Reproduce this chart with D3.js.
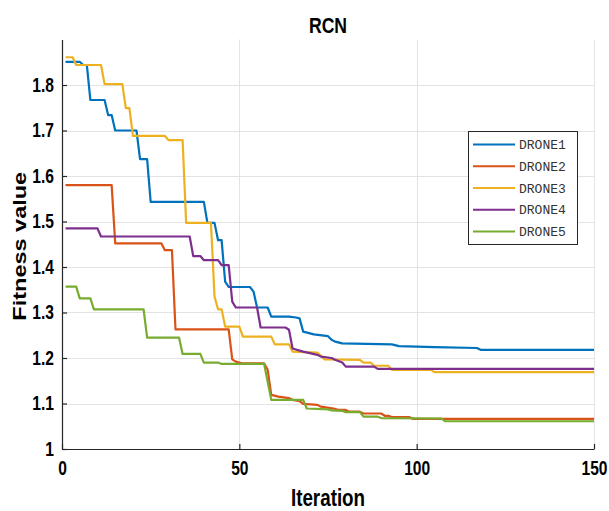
<!DOCTYPE html>
<html>
<head>
<meta charset="utf-8">
<script src="https://cdn.jsdelivr.net/npm/d3@7"></script>
<style>
  body { margin: 0; background: #fff; }
  svg { display: block; }
</style>
</head>
<body>
<svg id="chart" width="609" height="511"></svg>
<script>
// ---- data ----
const titleText = "RCN";
const xLabel = "Iteration";
const yLabel = "Fitness value";
const iterTicks = [0, 50, 100, 150];
const fitTicks = [1, 1.1, 1.2, 1.3, 1.4, 1.5, 1.6, 1.7, 1.8];
const seriesNames = ["DRONE1", "DRONE2", "DRONE3", "DRONE4", "DRONE5"];
const seriesColors = ["#0072BD", "#D95319", "#EDB120", "#7E2F8E", "#77AC30"];

const drone1 = [[1,1.851],[5,1.851],[6,1.844],[7,1.844],[8,1.767],[12,1.767],[13,1.734],[14,1.734],[15,1.700],[21,1.700],[22,1.637],[24,1.637],[25,1.543],[40,1.543],[41,1.497],[43,1.497],[44,1.459],[45,1.459],[46,1.368],[47,1.356],[53,1.356],[54,1.346],[55,1.311],[58,1.311],[59,1.291],[64,1.291],[66,1.289],[67,1.287],[68,1.258],[71,1.252],[75,1.248],[76,1.240],[77,1.236],[79,1.232],[93,1.230],[95,1.226],[105,1.224],[117,1.222],[118,1.218],[150,1.218]];
const drone2 = [[1,1.580],[14,1.580],[15,1.452],[28,1.452],[29,1.437],[31,1.437],[32,1.263],[47,1.263],[48,1.197],[49,1.192],[51,1.188],[57,1.188],[58,1.174],[59,1.119],[61,1.115],[64,1.112],[65,1.108],[67,1.105],[68,1.099],[72,1.097],[73,1.093],[77,1.088],[78,1.086],[80,1.086],[81,1.082],[84,1.082],[85,1.078],[90,1.078],[91,1.073],[92,1.073],[93,1.070],[98,1.070],[99,1.066],[150,1.066]];
const drone3 = [[1,1.861],[3,1.861],[4,1.844],[11,1.844],[12,1.802],[17,1.802],[18,1.749],[19,1.749],[20,1.688],[29,1.688],[30,1.679],[34,1.679],[35,1.497],[42,1.497],[43,1.335],[44,1.307],[45,1.307],[46,1.269],[50,1.269],[51,1.247],[59,1.247],[60,1.230],[64,1.230],[65,1.214],[72,1.212],[73,1.205],[74,1.197],[84,1.196],[85,1.190],[87,1.190],[88,1.183],[92,1.183],[93,1.174],[104,1.174],[105,1.169],[150,1.169]];
const drone4 = [[1,1.485],[10,1.485],[11,1.467],[36,1.467],[37,1.424],[39,1.424],[40,1.415],[44,1.415],[45,1.404],[47,1.404],[48,1.324],[49,1.311],[55,1.311],[56,1.267],[63,1.267],[64,1.262],[65,1.221],[68,1.214],[72,1.207],[73,1.203],[76,1.200],[77,1.196],[79,1.190],[80,1.181],[88,1.181],[89,1.176],[150,1.176]];
const drone5 = [[1,1.357],[4,1.357],[5,1.331],[8,1.331],[9,1.307],[23,1.307],[24,1.245],[33,1.245],[34,1.209],[39,1.209],[40,1.190],[44,1.190],[45,1.187],[57,1.187],[59,1.108],[68,1.108],[69,1.089],[75,1.087],[76,1.085],[79,1.084],[80,1.081],[84,1.081],[85,1.071],[89,1.071],[90,1.068],[107,1.067],[108,1.061],[150,1.061]];
const seriesData = [drone1, drone2, drone3, drone4, drone5];

// ---- drawing ----
const plot = { left: 62, right: 594, top: 39.5, bottom: 449 };
const svg = d3.select("#chart");
const labelFont = "'Liberation Sans', Arial, sans-serif";
const squeeze = 0.8;

const x = d3.scaleLinear().domain([0, 150]).range([plot.left, plot.right]);
const y = d3.scaleLinear().domain([1, 1.9]).range([plot.bottom, plot.top]);

// grid
const grid = svg.append("g").attr("stroke", "#e3e3e3").attr("stroke-width", 1);
grid.selectAll("line.v").data(iterTicks.filter(d => d > 0)).join("line")
  .attr("x1", d => Math.round(x(d)) + 0.5).attr("x2", d => Math.round(x(d)) + 0.5)
  .attr("y1", plot.top).attr("y2", plot.bottom);
grid.selectAll("line.h").data(fitTicks.filter(d => d > 1)).join("line")
  .attr("x1", plot.left).attr("x2", plot.right)
  .attr("y1", d => Math.round(y(d)) + 0.5).attr("y2", d => Math.round(y(d)) + 0.5);

// series
const line = d3.line().x(d => x(d[0])).y(d => y(d[1]));
svg.append("g").selectAll("path").data(seriesData).join("path")
  .attr("d", line)
  .attr("fill", "none")
  .attr("stroke", (d, i) => seriesColors[i])
  .attr("stroke-width", 2.2)
  .attr("stroke-linejoin", "round");

// axes
const fmt = d => String(+d.toFixed(1));
const xAxis = svg.append("g").attr("transform", `translate(0,${plot.bottom})`)
  .call(d3.axisBottom(x).tickValues(iterTicks).tickSize(-5).tickSizeOuter(0).tickPadding(12).tickFormat(fmt));
const yAxis = svg.append("g").attr("transform", `translate(${plot.left},0)`)
  .call(d3.axisLeft(y).tickValues(fitTicks).tickSize(-5).tickSizeOuter(0).tickPadding(7).tickFormat(fmt));
[xAxis, yAxis].forEach(a => {
  a.select(".domain").attr("stroke", "#262626").attr("stroke-width", 1.2);
  a.selectAll(".tick line").attr("stroke", "#262626").attr("stroke-width", 1.2);
  a.selectAll(".tick text")
    .attr("fill", "#000")
    .style("font-family", labelFont)
    .style("font-weight", "bold")
    .style("font-size", "19.5px");
});
xAxis.selectAll(".tick text").attr("transform", `scale(${squeeze},1)`);
yAxis.selectAll(".tick text").attr("x", 0).attr("transform", `translate(-8,0) scale(${squeeze},1)`);

// title & labels
svg.append("text")
  .attr("transform", `translate(${(plot.left + plot.right) / 2},33) scale(${squeeze},1)`)
  .attr("text-anchor", "middle")
  .style("font-family", labelFont).style("font-weight", "bold").style("font-size", "22px")
  .text(titleText);
svg.append("text")
  .attr("transform", `translate(${(plot.left + plot.right) / 2},506) scale(${squeeze},1)`)
  .attr("text-anchor", "middle")
  .style("font-family", labelFont).style("font-weight", "bold").style("font-size", "23.5px")
  .text(xLabel);
svg.append("text")
  .attr("transform", `translate(26,${(plot.top + plot.bottom) / 2 + 2}) rotate(-90) scale(1,${squeeze})`)
  .attr("text-anchor", "middle")
  .style("font-family", labelFont).style("font-weight", "bold").style("font-size", "23.5px")
  .text(yLabel);

// legend
const leg = svg.append("g");
leg.append("rect").attr("x", 468.5).attr("y", 131.5).attr("width", 109).attr("height", 113)
  .attr("fill", "#fff").attr("stroke", "#262626").attr("stroke-width", 1);
const rowY = d3.scaleLinear().domain([0, 4]).range([144.5, 231.5]);
const items = leg.selectAll("g.item").data(seriesNames).join("g");
items.append("line")
  .attr("x1", 473).attr("x2", 515)
  .attr("y1", (d, i) => rowY(i)).attr("y2", (d, i) => rowY(i))
  .attr("stroke", (d, i) => seriesColors[i]).attr("stroke-width", 2.2);
items.append("text")
  .attr("x", 519).attr("y", (d, i) => rowY(i) + 4.5)
  .style("font-family", "'Liberation Mono', 'DejaVu Sans Mono', monospace")
  .style("font-size", "13px").attr("fill", "#333")
  .text(d => d);
</script>
</body>
</html>
